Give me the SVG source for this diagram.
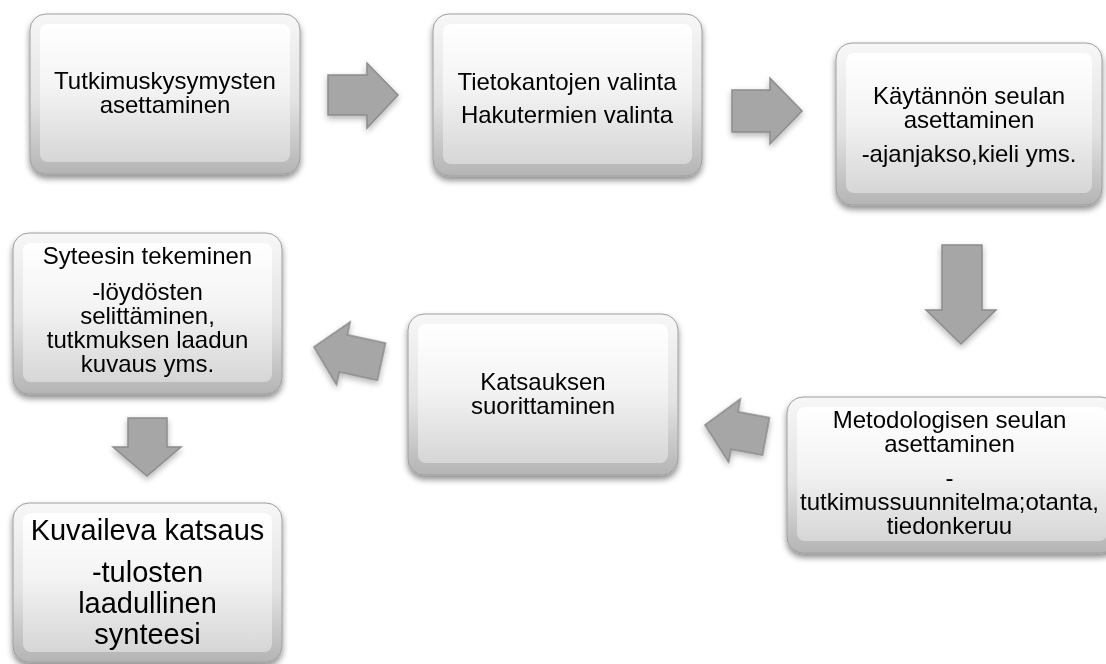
<svg xmlns="http://www.w3.org/2000/svg" width="1106" height="664" viewBox="0 0 1106 664">
<style>
.outer{fill:url(#bevel);stroke:#9e9e9e;stroke-width:1}
.face{fill:url(#face);stroke:none}
.t{font-family:"Liberation Sans",Arial,sans-serif;font-size:24px;fill:#000;text-anchor:middle}
.big{font-size:29px}
.arr{fill:#a6a6a6;stroke:#8c8c8c;stroke-width:1.5;stroke-linejoin:miter}
</style>
<defs>
<linearGradient id="bevel" x1="0" y1="0" x2="0" y2="1">
<stop offset="0" stop-color="#f7f7f7"/>
<stop offset="0.55" stop-color="#e2e2e2"/>
<stop offset="1" stop-color="#b4b4b4"/>
</linearGradient>
<linearGradient id="face" x1="0" y1="0" x2="0" y2="1">
<stop offset="0" stop-color="#ffffff"/>
<stop offset="0.45" stop-color="#f4f4f4"/>
<stop offset="1" stop-color="#d6d6d6"/>
</linearGradient>
<filter id="sh" x="-10%" y="-10%" width="120%" height="130%">
<feGaussianBlur in="SourceAlpha" stdDeviation="3"/>
<feOffset dx="0" dy="4" result="b"/>
<feComponentTransfer><feFuncA type="linear" slope="0.45"/></feComponentTransfer>
<feMerge><feMergeNode/><feMergeNode in="SourceGraphic"/></feMerge>
</filter>
<filter id="ash" x="-30%" y="-30%" width="160%" height="160%">
<feGaussianBlur in="SourceAlpha" stdDeviation="3"/>
<feOffset dx="0" dy="3" result="b"/>
<feComponentTransfer><feFuncA type="linear" slope="0.3"/></feComponentTransfer>
<feMerge><feMergeNode/><feMergeNode in="SourceGraphic"/></feMerge>
</filter>
</defs>
<rect x="0" y="0" width="1106" height="664" fill="#ffffff"/>

<g id="connectors" filter="url(#ash)">
<polygon class="arr" points="328,75 367,75 367,63 398,95 367,128 367,115 328,115"/>
<polygon class="arr" points="732,90 770,90 770,78 802,111 770,144 770,132 732,132"/>
<polygon class="arr" points="942,245 982,245 982,310 996,310 961,344 926,310 942,310"/>
<polygon class="arr" transform="translate(705,425) rotate(10.6)" points="0,0 30,-32 30,-19 62,-19 62,19 30,19 30,32"/>
<polygon class="arr" transform="translate(314,347) rotate(12.3)" points="0,0 30,-32 30,-19 69,-19 69,19 30,19 30,32"/>
<polygon class="arr" points="128,418 167,418 167,447 181,447 147,476 113,447 128,447"/>
</g>

<g id="n1" filter="url(#sh)">
<rect class="outer" x="30" y="14" width="270" height="160" rx="16"/>
<rect class="face" x="40" y="24" width="250" height="138" rx="8"/>
<text class="t" x="165" y="89">Tutkimuskysymysten</text>
<text class="t" x="165" y="113">asettaminen</text>
</g>

<g id="n2" filter="url(#sh)">
<rect class="outer" x="433" y="14" width="269" height="162" rx="16"/>
<rect class="face" x="443" y="24" width="249" height="140" rx="8"/>
<text class="t" x="567" y="90">Tietokantojen valinta</text>
<text class="t" x="567" y="123">Hakutermien valinta</text>
</g>

<g id="n3" filter="url(#sh)">
<rect class="outer" x="836" y="43" width="266" height="162" rx="16"/>
<rect class="face" x="846" y="53" width="246" height="140" rx="8"/>
<text class="t" x="969" y="104">Käytännön seulan</text>
<text class="t" x="969" y="128">asettaminen</text>
<text class="t" x="969" y="162">-ajanjakso,kieli yms.</text>
</g>

<g id="n4" filter="url(#sh)">
<rect class="outer" x="787" y="397" width="330" height="156" rx="16"/>
<rect class="face" x="797" y="407" width="310" height="134" rx="8"/>
<text class="t" x="949.5" y="428">Metodologisen seulan</text>
<text class="t" x="949.5" y="452">asettaminen</text>
<text class="t" x="949.5" y="486">-</text>
<text class="t" x="949.5" y="510">tutkimussuunnitelma;otanta,</text>
<text class="t" x="949.5" y="534">tiedonkeruu</text>
</g>

<g id="n5" filter="url(#sh)">
<rect class="outer" x="408" y="314" width="270" height="161" rx="16"/>
<rect class="face" x="418" y="324" width="250" height="139" rx="8"/>
<text class="t" x="543" y="390">Katsauksen</text>
<text class="t" x="543" y="414">suorittaminen</text>
</g>

<g id="n6" filter="url(#sh)">
<rect class="outer" x="13" y="233" width="269" height="161" rx="16"/>
<rect class="face" x="23" y="243" width="249" height="139" rx="8"/>
<text class="t" x="147.5" y="264">Syteesin tekeminen</text>
<text class="t" x="147.5" y="300">-löydösten</text>
<text class="t" x="147.5" y="324">selittäminen,</text>
<text class="t" x="147.5" y="348">tutkmuksen laadun</text>
<text class="t" x="147.5" y="372">kuvaus yms.</text>
</g>

<g id="n7" filter="url(#sh)">
<rect class="outer" x="13" y="503" width="269" height="159" rx="16"/>
<rect class="face" x="23" y="513" width="249" height="139" rx="8"/>
<text class="t big" x="147.5" y="540">Kuvaileva katsaus</text>
<text class="t big" x="147.5" y="582">-tulosten</text>
<text class="t big" x="147.5" y="613">laadullinen</text>
<text class="t big" x="147.5" y="644">synteesi</text>
</g>
</svg>
